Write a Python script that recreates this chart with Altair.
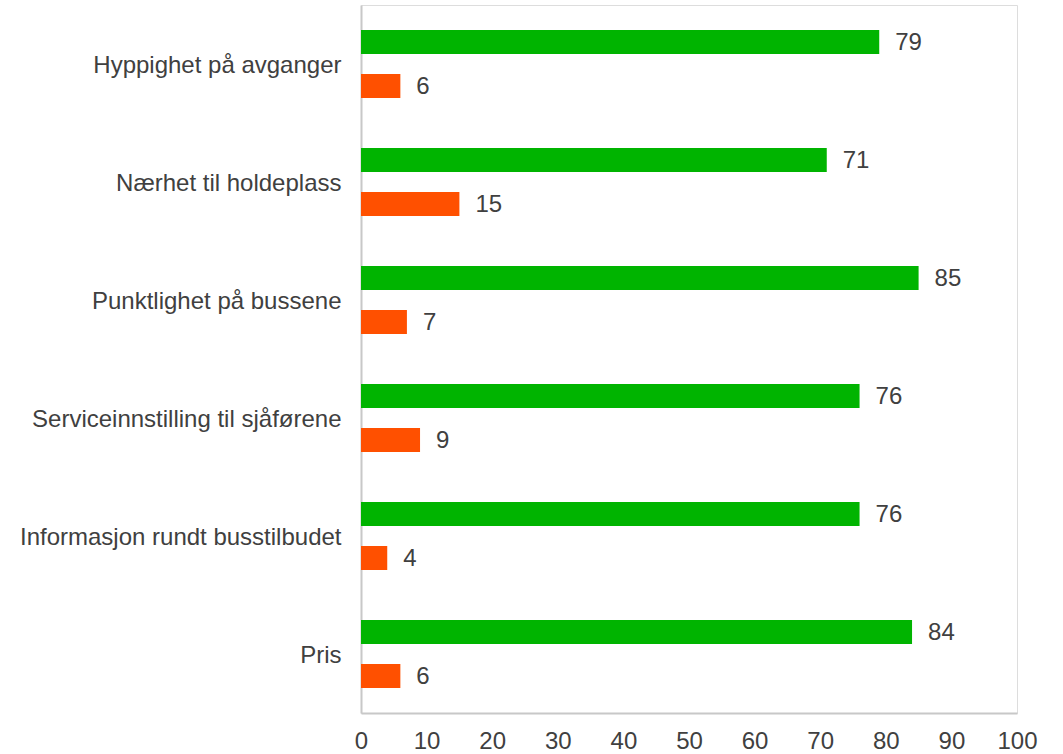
import altair as alt
import pandas as pd

categories = ["Hyppighet på avganger", "Nærhet til holdeplass", "Punktlighet på bussene",
              "Serviceinnstilling til sjåførene", "Informasjon rundt busstilbudet", "Pris"]
positive = [79, 71, 85, 76, 76, 84]
negative = [6, 15, 7, 9, 4, 6]
series = ["Fornøyd", "Misfornøyd"]
colors = ["#00B400", "#FF5000"]

rows = []
for c, p, n in zip(categories, positive, negative):
    rows.append({"kategori": c, "serie": series[0], "verdi": p})
    rows.append({"kategori": c, "serie": series[1], "verdi": n})
df = pd.DataFrame(rows)

font = "Liberation Sans"
fs = 24
base = alt.Chart(df).encode(
    y=alt.Y("kategori:N", sort=categories, title=None,
            scale=alt.Scale(paddingInner=0, paddingOuter=0),
            axis=alt.Axis(labelFontSize=fs, labelColor="#404040", labelFont=font,
                          ticks=False, domainColor="#C8C8C8", domainWidth=2,
                          labelPadding=20, labelLimit=400, labelOffset=2)),
    yOffset=alt.YOffset("serie:N", sort=series,
                        scale=alt.Scale(paddingInner=0.4545, paddingOuter=0.568)),
)

bars = base.mark_bar().encode(
    x=alt.X("verdi:Q", scale=alt.Scale(domain=[0, 100]), title=None,
            axis=alt.Axis(values=list(range(0, 101, 10)), grid=False, ticks=False,
                          labelFontSize=fs, labelColor="#404040", labelFont=font,
                          labelFlush=False,
                          domainColor="#C8C8C8", domainWidth=2, labelPadding=16)),
    color=alt.Color("serie:N", scale=alt.Scale(domain=series, range=colors), legend=None),
)

text = base.mark_text(align="left", baseline="middle", dx=16, dy=1, fontSize=fs,
                      font=font, color="#404040").encode(
    x="verdi:Q",
    text="verdi:Q",
)

chart = (bars + text).properties(
    width=656, height=708,
    autosize=alt.AutoSizeParams(type="none"),
    padding={"left": 361, "top": 5, "right": 46, "bottom": 41},
).configure_view(stroke=None).configure(background="white")

chart.save("out.html", embed_options={"renderer": "svg", "actions": False})
